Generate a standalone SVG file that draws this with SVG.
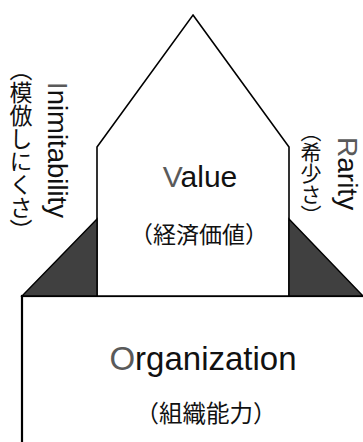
<svg xmlns="http://www.w3.org/2000/svg" width="363" height="442" viewBox="0 0 363 442">
  <style>
    .outline { fill: #fff; stroke: #000; stroke-width: 1.6; stroke-linejoin: miter; }
    .base { fill: #fff; stroke: #000; stroke-width: 2.2; }
    .wedge { fill: #404040; stroke: #000; stroke-width: 1.4; }
    .en { font-family: "Liberation Sans", Arial, sans-serif; fill: #111; }
    .jp { font-family: "Noto Sans CJK JP", "Noto Sans", sans-serif; fill: #111; }
    .init { fill: #5a5a5a; }
    .vert { writing-mode: vertical-rl; }
  </style>

  <!-- Organization: the base block, open to the right and bottom -->
  <g id="organization">
    <rect class="base" x="22" y="296" width="345" height="150"/>
    <text class="en" x="203" y="370" font-size="33" text-anchor="middle"><tspan class="init">O</tspan>rganization</text>
    <text class="jp" x="206" y="422" font-size="23.5" text-anchor="middle">（組織能力）</text>
  </g>

  <!-- Value: house-shaped pillar standing on the base -->
  <g id="value">
    <polygon class="outline" points="193,15 289,147 289,296 97,296 97,147"/>
    <text class="en" x="200" y="187" font-size="30" text-anchor="middle"><tspan class="init">V</tspan>alue</text>
    <text class="jp" x="199" y="243" font-size="23" text-anchor="middle">（経済価値）</text>
  </g>

  <!-- Inimitability: left buttress and its vertical label -->
  <g id="inimitability">
    <polygon class="wedge" points="97,219 22,296 97,296"/>
    <text class="en" transform="translate(48,82) rotate(90)" font-size="27.5"><tspan class="init">I</tspan>nimitability</text>
    <text class="jp vert" x="21" y="58" font-size="23">（模倣しにくさ）</text>
  </g>

  <!-- Rarity: right buttress and its vertical label -->
  <g id="rarity">
    <polygon class="wedge" points="289,219 363,296 289,296"/>
    <text class="en" transform="translate(338,137) rotate(90)" font-size="28"><tspan class="init">R</tspan>arity</text>
    <text class="jp vert" x="311" y="121" font-size="21">（希少さ）</text>
  </g>

  <g id="connectors"/>
</svg>
